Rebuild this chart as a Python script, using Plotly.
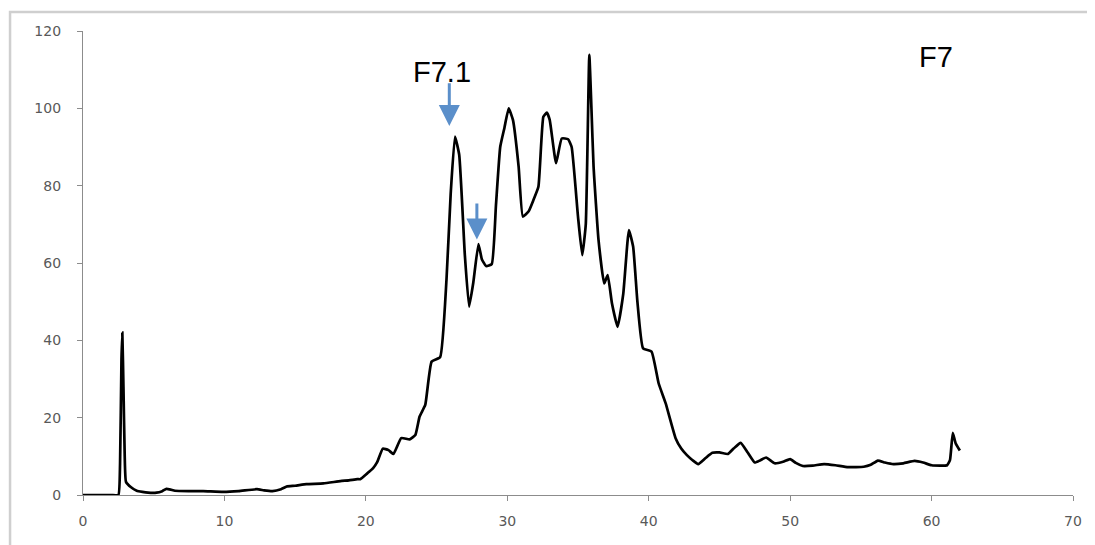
import plotly.graph_objects as go

time_min = [0, 1, 2, 2.5, 2.62, 2.72, 2.78, 2.86, 2.95, 3.04, 3.4, 3.8, 4.2, 4.6, 5.2, 5.6, 5.9, 6.2, 6.5, 7.5, 8.5, 9.9, 11.0, 12.3, 12.8, 13.4, 14.0, 14.4, 15.0, 15.8, 17.0, 18.2, 18.8, 19.4, 19.6, 20.1, 20.5, 20.8, 21.2, 21.6, 21.95, 22.5, 23.1, 23.5, 23.8, 24.2, 24.65, 25.25, 25.7, 26.0, 26.3, 26.6, 27.0, 27.3, 27.6, 27.96, 28.2, 28.5, 28.9, 29.2, 29.5, 29.8, 30.1, 30.4, 30.8, 31.1, 31.5, 31.85, 32.2, 32.55, 32.8, 33.0, 33.45, 33.85, 34.3, 34.55, 35.0, 35.3, 35.55, 35.8, 35.95, 36.1, 36.45, 36.85, 37.1, 37.4, 37.8, 38.2, 38.6, 38.9, 39.2, 39.6, 40.2, 40.7, 41.2, 41.9, 42.3, 42.7, 43.1, 43.5, 44.0, 44.5, 45.0, 45.6, 46.0, 46.5, 47.0, 47.5, 47.9, 48.3, 48.9, 49.5, 50.0, 50.4, 50.9, 51.6, 52.4, 53.2, 54.1, 55.2, 55.7, 56.2, 56.7, 57.3, 58.0, 58.8, 59.4, 60.0, 60.6, 61.1, 61.3, 61.5, 61.7, 62.0]
absorbance = [0, 0, 0, 0, 8, 35, 42, 28, 10, 3.4, 2.0, 1.1, 0.8, 0.6, 0.6, 1.0, 1.6, 1.4, 1.1, 1.0, 1.0, 0.8, 1.0, 1.5, 1.2, 1.0, 1.5, 2.2, 2.4, 2.8, 3.0, 3.6, 3.8, 4.1, 4.1, 5.6, 6.9, 8.5, 12.0, 11.6, 10.6, 14.7, 14.4, 15.5, 20.3, 23.3, 34.5, 35.6, 55.6, 78, 92.7, 88, 62, 48.7, 55, 64.9, 61, 59.2, 59.7, 75, 90, 95, 100, 97, 85, 72, 73.3, 76.3, 79.7, 97.8, 98.9, 97, 85.8, 92.2, 92, 90, 72, 62, 70, 113.8, 100, 85, 66, 54.7, 56.9, 49.6, 43.5, 52, 68.5, 64.2, 50, 37.9, 37.1, 28.9, 23.7, 14.7, 12, 10.3, 9.0, 8.0, 9.5, 10.9, 11.0, 10.6, 12.0, 13.5, 11.0, 8.4, 9.0, 9.7, 8.2, 8.6, 9.3, 8.3, 7.5, 7.6, 8.0, 7.7, 7.2, 7.3, 7.8, 8.9, 8.4, 8.0, 8.2, 8.8, 8.4, 7.7, 7.6, 7.7, 9.0, 16.1, 13.4, 11.5]

x_ticks = [0, 10, 20, 30, 40, 50, 60, 70]
y_ticks = [0, 20, 40, 60, 80, 100, 120]

fraction_labels = ["F7.1", "F7"]
fraction_label_x = [25.4, 60.3]
fraction_label_y = [109.3, 113.3]
arrow_x = [25.9, 27.85]
arrow_tip_y = [95.4, 66.1]
arrow_tail_y = [106.9, 75.8]

fig = go.Figure()
fig.add_trace(go.Scatter(
    x=time_min, y=absorbance, mode="lines",
    line=dict(color="black", width=2.7, shape="spline", smoothing=0.4),
    showlegend=False, hoverinfo="skip",
))

for xa, yt, yb in zip(arrow_x, arrow_tip_y, arrow_tail_y):
    fig.add_annotation(
        x=xa, y=yt, ax=xa, ay=yb, xref="x", yref="y", axref="x", ayref="y",
        text="", showarrow=True, arrowhead=2, arrowsize=1.4, arrowwidth=3,
        arrowcolor="#5b8fca",
    )

for t, xl, yl in zip(fraction_labels, fraction_label_x, fraction_label_y):
    fig.add_annotation(
        x=xl, y=yl, xref="x", yref="y", text=t, showarrow=False,
        font=dict(family="Liberation Sans, Arial, sans-serif", size=29, color="black"),
    )

gray_border = "#cfcfcf"
fig.add_shape(type="path", xref="paper", yref="paper",
              path="M -0.0737,-0.12 L -0.0737,1.041 L 1.03,1.041",
              line=dict(color=gray_border, width=2.5))

tick_font = dict(family="DejaVu Sans, sans-serif", size=14, color="#595959")
fig.update_layout(
    width=1087, height=537,
    margin=dict(l=75, r=22, t=23, b=50),
    paper_bgcolor="white", plot_bgcolor="white",
    xaxis=dict(range=[0, 70], tickvals=x_ticks, showgrid=False, zeroline=False,
               showline=True, linecolor="#8c8c8c", linewidth=1.2,
               ticks="outside", ticklen=5, tickcolor="#8c8c8c",
               tickfont=tick_font, ticklabelstandoff=8),
    yaxis=dict(range=[0, 120], tickvals=y_ticks, showgrid=False, zeroline=False,
               showline=True, linecolor="#8c8c8c", linewidth=1.2,
               ticks="outside", ticklen=5, tickcolor="#8c8c8c",
               tickfont=tick_font, ticklabelstandoff=13),
)

fig.write_html("out.html")
